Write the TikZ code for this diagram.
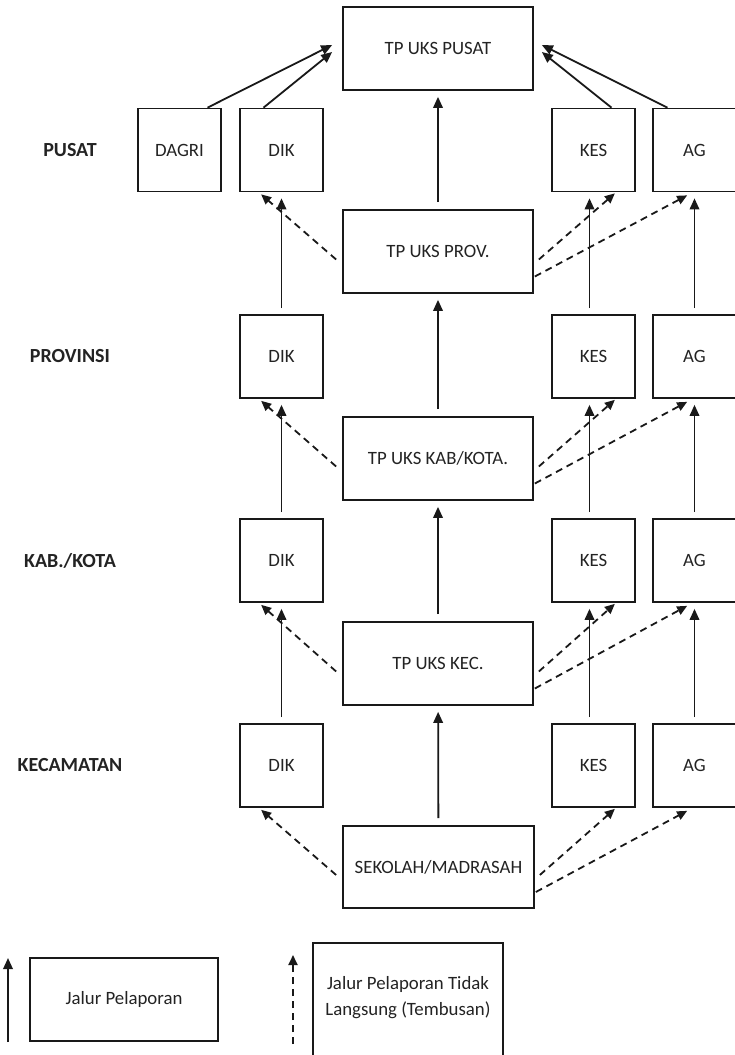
\documentclass[tikz,border=0pt]{standalone}
\usepackage{fontspec}
\setmainfont{Carlito}
\usetikzlibrary{arrows.meta,calc}
\definecolor{linec}{RGB}{25,25,25}
\definecolor{textc}{RGB}{35,35,35}
\begin{document}
\begin{tikzpicture}[x=1pt,y=-1pt,
  box/.style={draw=linec, line width=1.7pt, inner sep=0pt, text=textc, font=\fontsize{18.8}{26}\selectfont},
  side/.style={box, minimum width=83pt, minimum height=83pt},
  mid/.style={box, minimum width=190pt, minimum height=83pt},
  txt/.style={inner sep=0pt, text=textc, font=\fontsize{18.8}{26}\selectfont},
  lvl/.style={inner sep=0pt, text=textc, font=\bfseries\fontsize{20}{24}\selectfont},
  arr/.style={draw=linec, line width=1.8pt, -{Triangle[length=11pt,width=9.5pt]}},
  darr/.style={draw=linec, line width=1.8pt, -{Triangle[length=10pt,width=9pt]}, dash pattern=on 7pt off 5pt},
]
\useasboundingbox (0,0) rectangle (735,1055);

% centre column
\node[mid] (pusat) at (438,48.5) {TP UKS PUSAT};
\node[mid] (prov) at (438,251.5) {TP UKS PROV.};
\node[mid] (kab) at (438,458.5) {TP UKS KAB/KOTA.};
\node[mid] (kec) at (438,663.5) {TP UKS KEC.};
\node[box, minimum width=191pt, minimum height=82pt] (sek) at (438.5,867) {SEKOLAH/MADRASAH};

% level labels
\node[lvl] (lpusat) at (70,150) {PUSAT};
\node[lvl] (lprov) at (70,356.5) {PROVINSI};
\node[lvl] (lkab) at (70,560.5) {KAB./KOTA};
\node[lvl] (lkec) at (70,765.5) {KECAMATAN};

% side boxes
\node[side] (dagri) at (179.5,150) {DAGRI};
\foreach \r/\y in {1/150,2/356.5,3/560.5,4/765.5}{
  \node[side] (dik\r) at (281.5,\y) {DIK};
  \node[side] (kes\r) at (593.5,\y) {KES};
  \node[side] (ag\r) at (694.5,\y) {AG};
}

% reporting lines to TP UKS PUSAT
\draw[arr] ($(dagri.north)+(28,0)$) -- ($(pusat.west)+(-10,-3.5)$);
\draw[arr] ($(dik1.north)+(-18,0)$) -- ($(pusat.west)+(-10,3.5)$);
\draw[arr] ($(kes1.north)+(18,0)$) -- ($(pusat.east)+(8,3.5)$);
\draw[arr] ($(ag1.north)+(-27,0)$) -- ($(pusat.east)+(8,-3.5)$);

% centre vertical arrows
\foreach \a/\b in {sek/kec,kec/kab,kab/prov,prov/pusat}{
  \draw[arr, shorten <=7pt, shorten >=6pt] (\a) -- (\b);
}

% side vertical arrows
\foreach \a/\b in {4/3,3/2,2/1}{
  \draw[arr, shorten <=6pt, shorten >=6pt] (dik\a) -- (dik\b);
  \draw[arr, shorten <=6pt, shorten >=6pt] ([xshift=-4pt]kes\a.north) -- ([xshift=-4pt]kes\b.south);
  \draw[arr, shorten <=6pt, shorten >=6pt] (ag\a) -- (ag\b);
}

% indirect (dashed) lines
\foreach \c/\r in {prov/1,kab/2,kec/3,sek/4}{
  \draw[darr] ($(\c.west)+(-6,8)$) -- ($(dik\r.south west)+(22,2)$);
  \draw[darr] ($(\c.east)+(5,8)$) -- ($(kes\r.south east)+(-21,1)$);
  \draw[darr] ($(\c.east)+(1,25)$) -- ($(ag\r.south west)+(35,3)$);
}

% legend
\coordinate (l1s) at (8,1042);
\coordinate (l1e) at (8,958);
\draw[arr] (l1s) -- (l1e);
\node[box, minimum width=188pt, minimum height=83pt] (leg1) at (124,999.5) {Jalur Pelaporan};
\coordinate (l2s) at (293,1044);
\coordinate (l2e) at (293,955);
\draw[darr] (l2s) -- (l2e);
\node[box, minimum width=190pt, minimum height=119pt] (leg2) at (408,1002.5) {};
\node[txt, align=center] (leg2t) at (408,998) {Jalur Pelaporan Tidak\\Langsung (Tembusan)};
\end{tikzpicture}
\end{document}
